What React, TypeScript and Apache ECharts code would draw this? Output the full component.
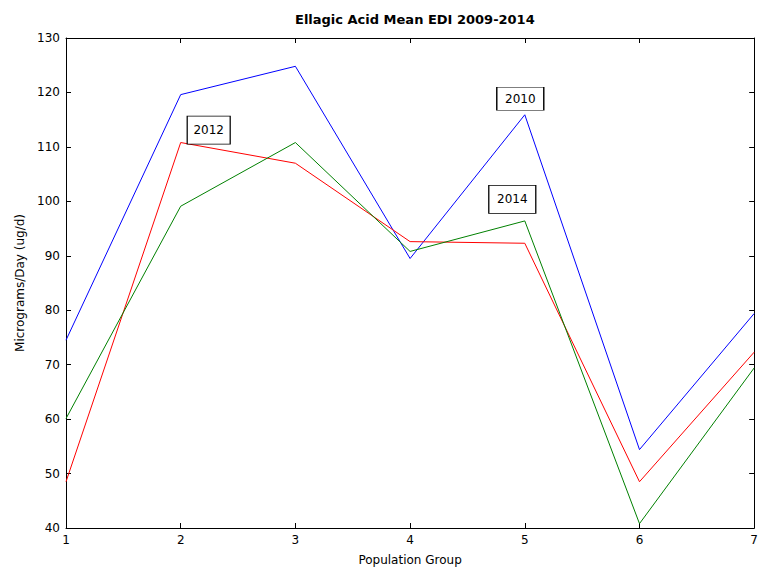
import React, { useEffect, useRef } from "react";
import * as echarts from "echarts";

const groups = [1, 2, 3, 4, 5, 6, 7];
const y2010 = [74.5, 119.6, 124.8, 89.5, 115.9, 54.4, 79.4];
const y2012 = [48.5, 110.8, 107.0, 92.6, 92.3, 48.5, 72.3];
const y2014 = [60.1, 99.1, 110.8, 90.8, 96.4, 40.8, 69.4];
const yTicks = [40, 130, 10];
const FONT = "'DejaVu Sans', 'Liberation Sans', Arial, sans-serif";

function pairs(vals: number[]) {
  return groups.map((g, i) => [g, vals[i]]);
}

function tag(text: string, idx: number, vals: number[], size: number[], offset: number[]) {
  return {
    symbol: "rect",
    symbolSize: size,
    symbolOffset: offset,
    silent: true,
    itemStyle: { color: "#ffffff", borderColor: "#000000", borderWidth: 1 },
    label: { show: true, position: "inside", formatter: text, color: "#000", fontSize: 12, fontFamily: FONT },
    data: [{ coord: [groups[idx], vals[idx]], value: text }],
  };
}

export default function App() {
  const ref = useRef<HTMLDivElement>(null);
  useEffect(() => {
    document.body.style.margin = "0";
    const chart = echarts.init(ref.current!, null, { renderer: "svg" });
    const axisLine = { show: true, lineStyle: { color: "#000", width: 1 } };
    const tick = { show: true, inside: true, length: 5, lineStyle: { color: "#000" } };
    const label = { color: "#000", fontSize: 12, fontFamily: FONT };
    chart.setOption({
      animation: false,
      backgroundColor: "#ffffff",
      title: {
        text: "Ellagic Acid Mean EDI 2009-2014",
        left: 290,
        top: 8,
        textStyle: { fontSize: 13, fontWeight: "bold", color: "#000", fontFamily: FONT },
      },
      grid: { left: 66, right: 3, top: 38, bottom: 41 },
      xAxis: [
        {
          type: "value",
          min: 1,
          max: 7,
          interval: 1,
          position: "bottom",
          axisLine,
          axisTick: tick,
          axisLabel: { ...label, margin: 6 },
          splitLine: { show: false },
          name: "Population Group",
          nameLocation: "middle",
          nameGap: 26,
          nameTextStyle: { color: "#000", fontSize: 12, fontFamily: FONT },
        },
        {
          type: "value",
          min: 1,
          max: 7,
          interval: 1,
          position: "top",
          axisLine,
          axisTick: tick,
          axisLabel: { show: false },
          splitLine: { show: false },
        },
      ],
      yAxis: [
        {
          type: "value",
          min: yTicks[0],
          max: yTicks[1],
          interval: yTicks[2],
          position: "left",
          axisLine,
          axisTick: tick,
          axisLabel: { ...label, margin: 6 },
          splitLine: { show: false },
          name: "Micrograms/Day (ug/d)",
          nameLocation: "middle",
          nameGap: 40,
          nameTextStyle: { color: "#000", fontSize: 12, fontFamily: FONT },
        },
        {
          type: "value",
          min: yTicks[0],
          max: yTicks[1],
          interval: yTicks[2],
          position: "right",
          axisLine,
          axisTick: tick,
          axisLabel: { show: false },
          splitLine: { show: false },
        },
      ],
      series: [
        {
          name: "2010",
          type: "line",
          data: pairs(y2010),
          showSymbol: false,
          lineStyle: { color: "#0000ff", width: 1 },
          itemStyle: { color: "#0000ff" },
          markPoint: tag("2010", 4, y2010, [47, 23], [-4.5, -16]),
        },
        {
          name: "2012",
          type: "line",
          data: pairs(y2012),
          showSymbol: false,
          lineStyle: { color: "#ff0000", width: 1 },
          itemStyle: { color: "#ff0000" },
          markPoint: tag("2012", 1, y2012, [43, 28], [28, -12.5]),
        },
        {
          name: "2014",
          type: "line",
          data: pairs(y2014),
          showSymbol: false,
          lineStyle: { color: "#008000", width: 1 },
          itemStyle: { color: "#008000" },
          markPoint: tag("2014", 4, y2014, [47, 28], [-12.5, -21.5]),
        },
      ],
    });
    return () => chart.dispose();
  }, []);
  return <div ref={ref} style={{ width: 761, height: 571 }} />;
}
